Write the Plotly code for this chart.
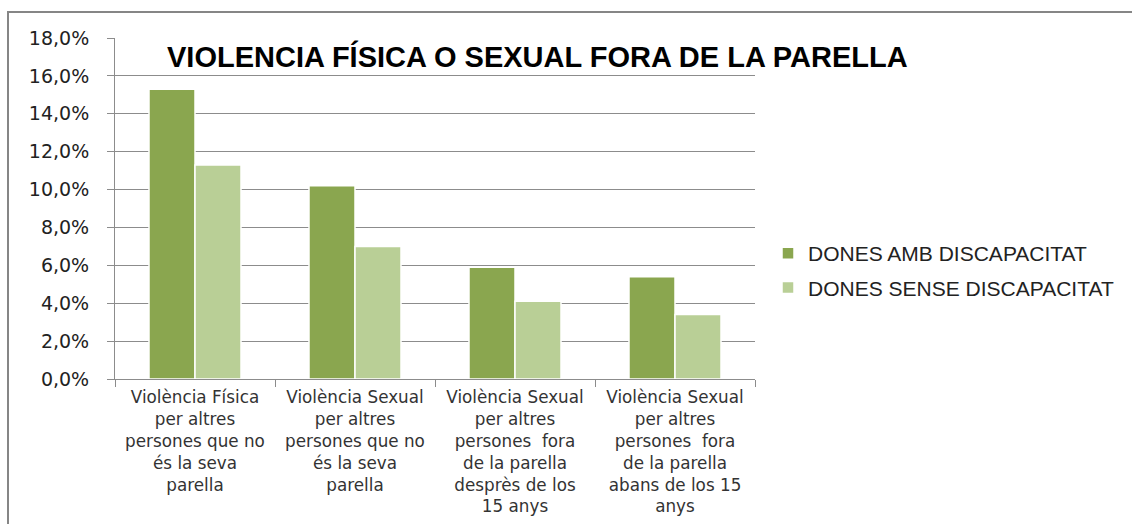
import plotly.graph_objects as go

categories = [
    "Violència Física<br>per altres<br>persones que no<br>és la seva<br>parella",
    "Violència Sexual<br>per altres<br>persones que no<br>és la seva<br>parella",
    "Violència Sexual<br>per altres<br>persones\u00a0 fora<br>de la parella<br>desprès de los<br>15 anys",
    "Violència Sexual<br>per altres<br>persones\u00a0 fora<br>de la parella<br>abans de los 15<br>anys",
]
amb_discapacitat = [0.153, 0.102, 0.059, 0.054]
sense_discapacitat = [0.113, 0.070, 0.041, 0.034]
series_names = ["DONES AMB DISCAPACITAT", "DONES SENSE DISCAPACITAT"]
title_text = "VIOLENCIA FÍSICA O SEXUAL FORA DE LA PARELLA"

DARK = "#8AA64F"
LIGHT = "#B9CF96"
GRID = "#8C8C8C"

# plot area in pixels
L, R, T, B = 115, 755, 38, 379
W, H = 1132, 524

def px_x(p):
    return (p - L) / (R - L)

def px_y(p):
    return (B - p) / (B - T)

fig = go.Figure()
fig.add_trace(go.Bar(
    x=categories, y=amb_discapacitat, name=series_names[0],
    marker=dict(color=DARK, line=dict(color="white", width=1.5)),
    legendgroup="a",
))
fig.add_trace(go.Bar(
    x=categories, y=sense_discapacitat, name=series_names[1],
    marker=dict(color=LIGHT, line=dict(color="white", width=1.5)),
    legendgroup="b",
))

fig.update_layout(
    width=W, height=H,
    margin=dict(l=L, r=W - R, t=T, b=H - B, pad=0, autoexpand=False),
    paper_bgcolor="white", plot_bgcolor="white",
    separators=",.",
    barmode="group", bargap=0.425, bargroupgap=0,
    font=dict(family="Liberation Sans, Arial, sans-serif", color="#222222"),
    legend=dict(
        x=px_x(768), y=px_y(233), xanchor="left", yanchor="top",
        font=dict(family="Liberation Sans, Arial, sans-serif", size=21, color="#222222"),
        tracegroupgap=4, bgcolor="rgba(0,0,0,0)",
    ),
    xaxis=dict(
        type="category", showgrid=False, automargin=False,
        showline=True, linecolor=GRID, linewidth=1,
        ticks="outside", tickson="boundaries", ticklen=7, tickcolor=GRID,
        tickangle=0, ticklabelstandoff=3,
        tickfont=dict(family="DejaVu Sans, sans-serif", size=16.8, color="#333333"),
    ),
    yaxis=dict(
        range=[0, 0.18], dtick=0.02, tickformat=".1%", automargin=False,
        showgrid=True, gridcolor=GRID, gridwidth=1,
        showline=True, linecolor=GRID, linewidth=1,
        ticks="outside", ticklen=7, tickcolor=GRID,
        ticklabelstandoff=14,
        tickfont=dict(family="DejaVu Sans, sans-serif", size=19, color="#222222"),
        zeroline=False,
    ),
    showlegend=True,
)

fig.add_annotation(
    text="<b>" + title_text + "</b>",
    xref="paper", yref="paper", x=px_x(537), y=px_y(57),
    xanchor="center", yanchor="middle", showarrow=False,
    font=dict(family="Liberation Sans, Arial, sans-serif", size=29, color="black"),
)

# outer chart border (cut off at right and bottom)
fig.add_shape(
    type="rect", xref="paper", yref="paper",
    x0=px_x(8), x1=px_x(1160), y0=px_y(560), y1=px_y(12),
    line=dict(color="#868686", width=2), fillcolor="rgba(0,0,0,0)", layer="below",
)

fig.write_html("out.html")
